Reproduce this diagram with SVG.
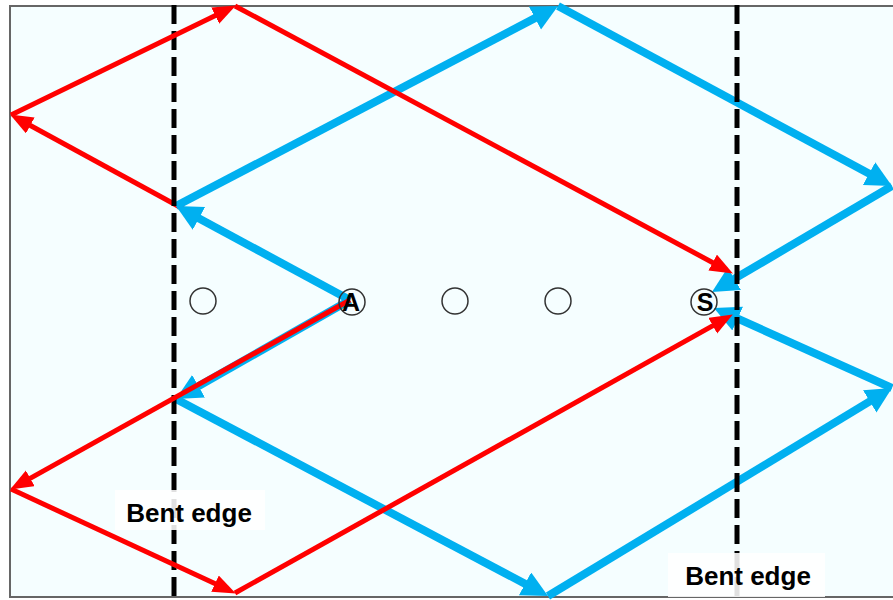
<svg xmlns="http://www.w3.org/2000/svg" width="893" height="600" viewBox="0 0 893 600">
<style>
.red{stroke:#FF0000;stroke-width:5;fill:none;marker-end:url(#ra)}
.blue{stroke:#00B0F0;stroke-width:8;fill:none;marker-end:url(#ba)}
.dash{stroke:#000;stroke-width:5;stroke-dasharray:19 7}
.node circle{fill:none;stroke:#333;stroke-width:1.5}
.node text{font-family:"Liberation Sans",Arial,sans-serif;font-weight:bold;font-size:25px;fill:#000;text-anchor:middle}
.lbl rect{fill:#fff;opacity:0.88}
.lbl text{font-family:"Liberation Sans",Arial,sans-serif;font-weight:bold;font-size:26px;fill:#000;text-anchor:middle}
</style>
<defs>
<marker id="ra" markerUnits="userSpaceOnUse" markerWidth="26" markerHeight="20" refX="14" refY="9" orient="auto">
<path d="M0,0 L23,9 L0,18 z" fill="#FF0000"/>
</marker>
<marker id="ba" markerUnits="userSpaceOnUse" markerWidth="28" markerHeight="28" refX="14" refY="13" orient="auto">
<path d="M0,0 L26,13 L0,26 z" fill="#00B0F0"/>
</marker>
</defs>
<rect x="0" y="0" width="893" height="600" fill="#fff"/>
<rect x="10" y="6" width="886" height="591" fill="#F5FEFF" stroke="#666" stroke-width="2"/>
<g id="connectors">
<line class="red" x1="350" y1="300" x2="18" y2="118.8"/>
<line class="blue" x1="350" y1="300" x2="186.6" y2="211.7"/>
<line class="blue" x1="176" y1="206" x2="547.4" y2="11.6"/>
<line class="blue" x1="558" y1="6" x2="881.4" y2="180.3"/>
<line class="blue" x1="892" y1="186" x2="722.3" y2="285.9"/>
<line class="blue" x1="350" y1="300" x2="186.4" y2="393.1"/>
<line class="blue" x1="176" y1="399" x2="537.4" y2="590.4"/>
<line class="blue" x1="548" y1="596" x2="881.7" y2="394.2"/>
<line class="blue" x1="892" y1="388" x2="724.9" y2="312.9"/>
<line class="dash" x1="174" y1="5" x2="174" y2="597"/>
<line class="dash" x1="737" y1="5" x2="737" y2="597"/>
<line class="red" x1="11" y1="115" x2="227.8" y2="9.5"/>
<line class="red" x1="235" y1="6" x2="725" y2="269.2"/>
<line class="red" x1="350" y1="300" x2="18" y2="485.1"/>
<line class="red" x1="11" y1="489" x2="227.7" y2="589.6"/>
<line class="red" x1="235" y1="593" x2="725" y2="318.9"/>
</g>
<g id="n1" class="node"><circle cx="203" cy="301" r="13"/></g>
<g id="nA" class="node"><circle cx="352" cy="302" r="13"/><text x="351" y="311">A</text></g>
<g id="n3" class="node"><circle cx="455" cy="301" r="13"/></g>
<g id="n4" class="node"><circle cx="558" cy="301" r="13"/></g>
<g id="nS" class="node"><circle cx="704" cy="302" r="13"/><text x="705" y="311">S</text></g>
<g id="label1" class="lbl"><rect x="115" y="490" width="150" height="40"/><text x="189" y="522">Bent edge</text></g>
<g id="label2" class="lbl"><rect x="668" y="553" width="157" height="44"/><text x="748" y="585">Bent edge</text></g>
</svg>
